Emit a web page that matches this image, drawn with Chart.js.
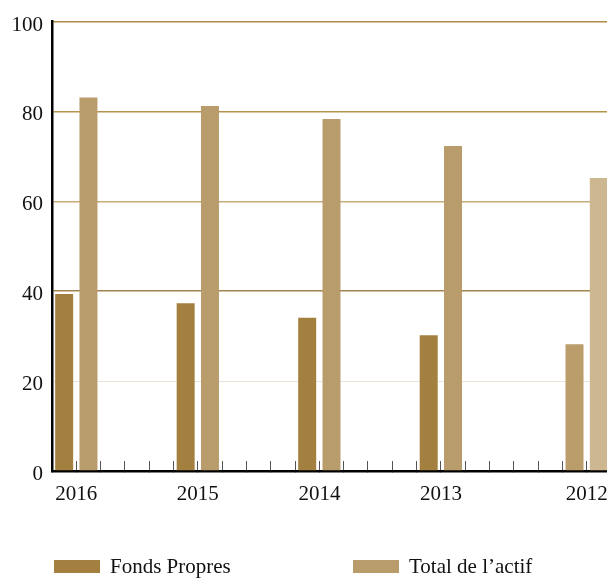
<!DOCTYPE html>
<html lang="fr">
<head>
    <meta charset="UTF-8">
    <title>Fonds Propres / Total de l'actif</title>
    <script src="https://cdn.jsdelivr.net/npm/chart.js@4.4.8/dist/chart.umd.min.js"></script>
    <style>
        body { margin: 0; width: 607px; height: 578px; overflow: hidden; position: relative; background: #fff; }
        #chart { position: absolute; left: 0; top: 0; }
        .legend-item { position: absolute; top: 554px; height: 23px; line-height: 23px; font: 21px "Liberation Serif", serif; color: #111; white-space: nowrap; }
        .legend-item span { position: absolute; left: 0; top: 6px; width: 46px; height: 13px; }
        .legend-item label { position: absolute; left: 56px; top: 0; }
    </style>
</head>
<body>
<canvas id="chart" width="620" height="578"></canvas>
<div class="legend-item" style="left:54px"><span style="background:#a3803f"></span><label>Fonds Propres</label></div>
<div class="legend-item" style="left:353px"><span style="background:#b99c6b"></span><label>Total de l’actif</label></div>

<script>
    const years = ['2016', '2015', '2014', '2013', '2012'];
    const fondsPropres = [39.4, 37.3, 34.1, 30.2, 28.2];
    const totalActif = [83.1, 81.2, 78.3, 72.3, 65.2];

    // layout: which slot of the axis each year group starts in (the 2012 group sits one slot further)
    const groupSlot = [0, 5, 10, 15, 21];
    const slotCount = 23;
    const fondsColors = ['#a3803f', '#a3803f', '#a3803f', '#a3803f', '#ba9d6b'];
    const totalColors = ['#b99c6b', '#b99c6b', '#b99c6b', '#b99c6b', '#cdb791'];
    const gridColors = {0: 'rgba(0,0,0,0)', 20: '#ebe3d8', 40: '#a3844f', 60: '#c6ab78', 80: '#b8934f', 100: '#b08a42'};

    const labels = new Array(slotCount).fill('');
    const fondsData = new Array(slotCount).fill(null);
    const totalData = new Array(slotCount).fill(null);
    const fondsBg = new Array(slotCount).fill(null);
    const totalBg = new Array(slotCount).fill(null);
    years.forEach((y, i) => {
        const s = groupSlot[i];
        labels[s] = y;
        fondsData[s] = fondsPropres[i];
        totalData[s + 1] = totalActif[i];
        fondsBg[s] = fondsColors[i];
        totalBg[s + 1] = totalColors[i];
    });

    const font = { family: '"Liberation Serif", "Times New Roman", serif', size: 21 };

    new Chart(document.getElementById('chart').getContext('2d'), {
        type: 'bar',
        data: {
            labels: labels,
            datasets: [
                { label: 'Fonds Propres', data: fondsData, backgroundColor: fondsBg },
                { label: 'Total de l’actif', data: totalData, backgroundColor: totalBg }
            ]
        },
        options: {
            responsive: false,
            animation: false,
            grouped: false,
            barPercentage: 0.74,
            categoryPercentage: 1,
            layout: { padding: { top: 20, right: 8, left: 0, bottom: 0 } },
            plugins: { legend: { display: false }, tooltip: { enabled: false } },
            scales: {
                x: {
                    offset: true,
                    grid: { display: true, drawOnChartArea: false, drawTicks: true, tickLength: -10, color: '#555', lineWidth: 1, offset: true },
                    border: { display: true, color: '#000', width: 2.5 },
                    ticks: { autoSkip: false, maxRotation: 0, labelOffset: 12.2, padding: 21, color: '#111', font: font },
                    afterFit: (scale) => { scale.height = 107; }
                },
                y: {
                    min: 0,
                    max: 100,
                    ticks: { stepSize: 20, padding: 9, labelOffset: 3.5, color: '#111', font: font },
                    grid: {
                        drawTicks: false,
                        color: (ctx) => gridColors[ctx.tick.value] || 'rgba(0,0,0,0)',
                        lineWidth: (ctx) => ctx.tick.value === 20 ? 1 : 1.5
                    },
                    border: { display: true, color: '#000', width: 2.5 },
                    afterFit: (scale) => { scale.width = 52; }
                }
            }
        }
    });
</script>
</body>
</html>
